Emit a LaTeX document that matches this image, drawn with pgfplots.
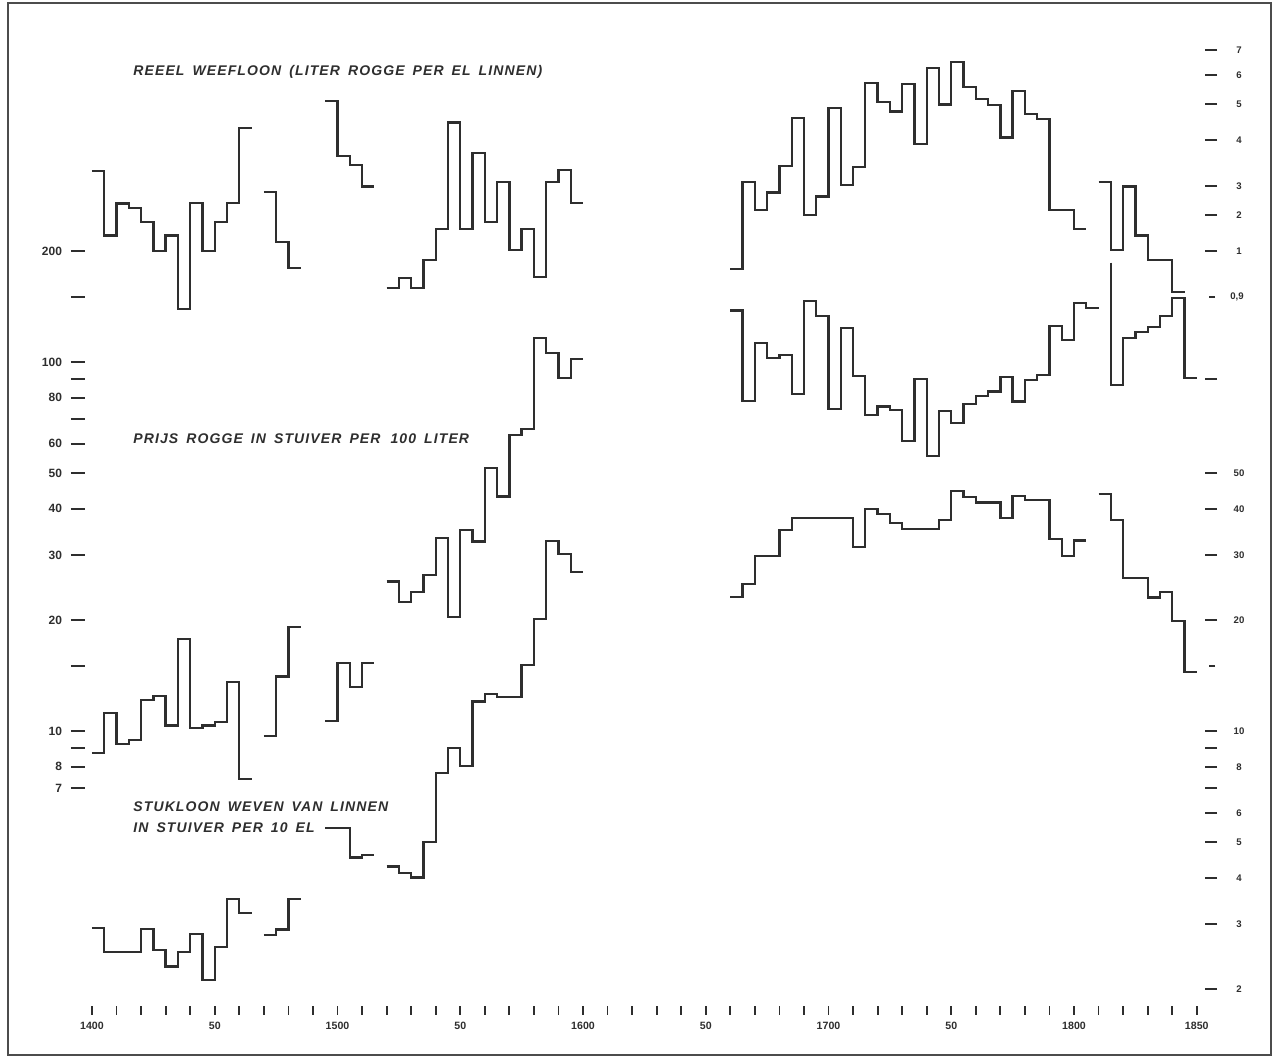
\documentclass[border=0pt]{standalone}
\usepackage{fontspec}
\setmainfont{Liberation Sans}
\newfontfamily\titlefont{Liberation Sans}[LetterSpace=8, WordSpace=1.6]
\usepackage{pgfplots}
\pgfplotsset{compat=1.18}
\definecolor{ink}{HTML}{2E2E2E}
\begin{document}
\begin{tikzpicture}[x=1pt,y=1pt]
\useasboundingbox (-42.5,-27.5) rectangle (596,501.5);
\fill[white] (-42.5,-27.5) rectangle (596,501.5);
\draw[line width=1.4pt, black!70] (-38.5,-26) rectangle (593,500);
\begin{axis}[
  scale only axis, width=560pt, height=491.5pt,
  at={(0,0)}, anchor=south west,
  xmin=1397.15, xmax=1853.36,
  ymode=log, ymin=1.8319, ymax=844.9,
  axis line style={draw=none},
  clip=false,
  tick align=outside,
  tick style={line width=0.8pt, ink},
  tick pos=left,
  xtick=\empty,
  yminorticks=false,
  major tick length=7pt,
  ytick={7,8,9,10,15,20,30,40,50,60,70,80,90,100,150,200},
  yticklabels={7,8,,10,,20,30,40,50,60,,80,,100,,200},
  yticklabel style={font=\bfseries\fontsize{6}{7}\selectfont, ink, xshift=-1pt},
]
% Reeel weefloon
\addplot[const plot, no marks, line width=1.15pt, ink] coordinates {(1400,329)(1405,220)(1410,269)(1415,261)(1420,240)(1425,200)(1430,220)(1435,139)(1440,270)(1445,200)(1450,240)(1455,270)(1460,430)(1465,430)};
\addplot[const plot, no marks, line width=1.15pt, ink] coordinates {(1470,289)(1475,211)(1480,180)(1485,180)};
\addplot[const plot, no marks, line width=1.15pt, ink] coordinates {(1495,510)(1500,362)(1505,342)(1510,299)(1515,299)};
\addplot[const plot, no marks, line width=1.15pt, ink] coordinates {(1520,159)(1525,169)(1530,159)(1535,189)(1540,229)(1545,446)(1550,229)(1555,368)(1560,239)(1565,308)(1570,201)(1575,229)(1580,170)(1585,308)(1590,331)(1595,270)(1600,270)};
\addplot[const plot, no marks, line width=1.15pt, ink] coordinates {(1660,179)(1665,308)(1670,258)(1675,288)(1680,340)(1685,458)(1690,250)(1695,281)(1700,487)(1705,302)(1710,338)(1715,571)(1720,507)(1725,477)(1730,566)(1735,389)(1740,625)(1745,499)(1750,649)(1755,557)(1760,516)(1765,497)(1770,406)(1775,543)(1780,470)(1785,455)(1790,258)(1795,258)(1800,229)(1805,229)};
\addplot[const plot, no marks, line width=1.15pt, ink] coordinates {(1810,308)(1815,201)(1820,299)(1825,220)(1830,189)(1835,189)(1840,155)(1845,155)};
% Prijs rogge
\addplot[const plot, no marks, line width=1.15pt, ink] coordinates {(1520,25.4)(1525,22.4)(1530,23.8)(1535,26.5)(1540,33.3)(1545,20.4)(1550,35.0)(1555,32.6)(1560,51.5)(1565,43.2)(1570,63.4)(1575,65.7)(1580,116)(1585,105.6)(1590,90.3)(1595,101.7)(1600,101.7)};
\addplot[const plot, no marks, line width=1.15pt, ink] coordinates {(1660,138)(1665,78.4)(1670,112.8)(1675,102.3)(1680,104.5)(1685,81.9)(1690,146.6)(1695,133)(1700,74.6)(1705,123.4)(1710,91.8)(1715,71.8)(1720,75.7)(1725,74.1)(1730,61.2)(1735,89.9)(1740,55.6)(1745,73.7)(1750,68.2)(1755,76.9)(1760,81.0)(1765,83.1)(1770,90.9)(1775,78.1)(1780,89.4)(1785,92.2)(1790,125.2)(1795,114.7)(1800,144.3)(1805,140.3)(1810,140.3)};
\addplot[const plot, no marks, line width=1.15pt, ink] coordinates {(1815,185.8)(1815,86.6)(1820,116)(1825,120.8)(1830,124.6)(1835,133)(1840,148.8)(1845,90.3)(1850,90.3)};
% Stukloon
\addplot[const plot, no marks, line width=1.15pt, ink] coordinates {(1400,8.73)(1405,11.17)(1410,9.22)(1415,9.45)(1420,12.13)(1425,12.44)(1430,10.34)(1435,17.72)(1440,10.17)(1445,10.34)(1450,10.60)(1455,13.60)(1460,7.41)(1465,7.41)};
\addplot[const plot, no marks, line width=1.15pt, ink] coordinates {(1470,9.69)(1475,14.04)(1480,19.17)(1485,19.17)};
\addplot[const plot, no marks, line width=1.15pt, ink] coordinates {(1495,10.66)(1500,15.31)(1505,13.13)(1510,15.31)(1515,15.31)};
\addplot[const plot, no marks, line width=1.15pt, ink] coordinates {(1495,5.45)(1505,4.54)(1510,4.61)(1515,4.61)};
\addplot[const plot, no marks, line width=1.15pt, ink] coordinates {(1520,4.29)(1525,4.13)(1530,4.01)(1535,5.01)(1540,7.68)(1545,9.01)(1550,8.04)(1555,12.01)(1560,12.60)(1565,12.34)(1575,15.10)(1580,20.08)(1585,32.73)(1590,30.18)(1595,27.02)(1600,27.02)};
\addplot[const plot, no marks, line width=1.15pt, ink] coordinates {(1400,2.92)(1405,2.52)(1420,2.91)(1425,2.55)(1430,2.30)(1435,2.52)(1440,2.82)(1445,2.11)(1450,2.60)(1455,3.50)(1460,3.21)(1465,3.21)};
\addplot[const plot, no marks, line width=1.15pt, ink] coordinates {(1470,2.80)(1475,2.90)(1480,3.50)(1485,3.50)};
\addplot[const plot, no marks, line width=1.15pt, ink] coordinates {(1660,23.1)(1665,25.0)(1670,29.86)(1680,35.05)(1685,37.7)(1710,31.59)(1715,39.9)(1720,38.7)(1725,36.6)(1730,35.2)(1745,37.3)(1750,44.8)(1755,43.15)(1760,41.6)(1770,37.7)(1775,43.3)(1780,42.3)(1790,33.1)(1795,29.86)(1800,32.8)(1805,32.8)};
\addplot[const plot, no marks, line width=1.15pt, ink] coordinates {(1810,43.9)(1815,37.3)(1820,26.0)(1830,23.0)(1835,23.85)(1840,19.87)(1845,14.48)(1850,14.48)};
% titles
\node[anchor=west, ink, font=\titlefont\itshape\bfseries\fontsize{7}{9}\selectfont, inner sep=0pt] at (axis cs:1416.7,610.8) {REEEL WEEFLOON (LITER ROGGE PER EL LINNEN)};
\node[anchor=west, ink, font=\titlefont\itshape\bfseries\fontsize{7}{9}\selectfont, inner sep=0pt] at (axis cs:1416.7,61.8) {PRIJS ROGGE IN STUIVER PER\hspace{1pt} 100 LITER};
\node[anchor=west, ink, font=\titlefont\itshape\bfseries\fontsize{7}{9}\selectfont, inner sep=0pt] at (axis cs:1416.7,6.22) {STUKLOON WEVEN VAN LINNEN};
\node[anchor=west, ink, font=\titlefont\itshape\bfseries\fontsize{7}{9}\selectfont, inner sep=0pt] at (axis cs:1416.7,5.46) {IN STUIVER PER 10 EL};
\end{axis}
% right scale
\begin{axis}[
  scale only axis, width=560pt, height=491.5pt,
  at={(0,0)}, anchor=south west,
  xmin=1397.15, xmax=1853.36,
  ymode=log, ymin=1.8319, ymax=844.9,
  axis line style={draw=none},
  tick align=outside,
  tick style={line width=0.8pt, ink},
  xtick=\empty,
  yminorticks=false,
  ytick pos=right, yticklabel pos=right,
  major tick length=6pt,
  ytick={2,3,4,5,6,7,8,9,10,20,30,40,50,90,200,250,300,400,500,600,700},
  yticklabels={2,3,4,5,6,,8,,10,20,30,40,50,,1,2,3,4,5,6,7},
  yticklabel style={font=\bfseries\fontsize{4.8}{5}\selectfont, ink, anchor=center, xshift=11pt},
]
\end{axis}
\begin{axis}[
  scale only axis, width=560pt, height=491.5pt,
  at={(0,0)}, anchor=south west,
  xmin=1397.15, xmax=1853.36,
  ymode=log, ymin=1.8319, ymax=844.9,
  axis line style={draw=none},
  tick align=outside,
  tick style={line width=0.8pt, ink, xshift=2pt},
  xtick=\empty,
  yminorticks=false,
  ytick pos=right, yticklabel pos=right,
  major tick length=3pt,
  ytick={15,150},
  yticklabels={,{0,9}},
  yticklabel style={font=\bfseries\fontsize{4.8}{5}\selectfont, ink, anchor=center, xshift=13pt},
]
\end{axis}
% time axis
\begin{axis}[
  scale only axis, width=560pt, height=491.5pt,
  at={(0,-1.5pt)}, anchor=south west,
  xmin=1397.15, xmax=1853.36,
  ymin=0, ymax=1,
  axis line style={draw=none},
  tick align=outside,
  tick style={line width=0.9pt, ink},
  ytick=\empty,
  tick pos=left,
  major tick length=4.5pt,
  xtick={1400,1410,...,1850},
  xticklabels={1400,,,,,50,,,,,1500,,,,,50,,,,,1600,,,,,50,,,,,1700,,,,,50,,,,,1800,,,,,1850},
  xticklabel style={font=\bfseries\fontsize{5.3}{6}\selectfont, ink},
]
\end{axis}
\end{tikzpicture}
\end{document}
